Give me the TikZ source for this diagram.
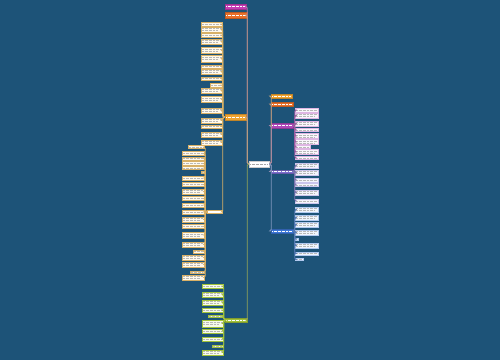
\documentclass[tikz,border=0pt]{standalone}
\usetikzlibrary{calc}
\definecolor{bg}{HTML}{1D5378}
\definecolor{cpink}{HTML}{C43CB4}
\definecolor{corange}{HTML}{E8702A}
\definecolor{cgold}{HTML}{F0A532}
\definecolor{cpurple}{HTML}{B048B8}
\definecolor{clav}{HTML}{7D6FD0}
\definecolor{cblue}{HTML}{3D78D8}
\definecolor{cgreen}{HTML}{A2C23A}
\definecolor{tanline}{HTML}{D8B066}
\definecolor{fleft}{HTML}{FFF9EC}
\definecolor{fgreen}{HTML}{F6FAEA}
\definecolor{fpur}{HTML}{F9F6FB}
\definecolor{flav}{HTML}{F4F4FB}
\definecolor{fblue}{HTML}{F0F5FC}
\tikzset{
  box/.style={rectangle,inner sep=0pt,line width=0.4pt},
  leftbox/.style={box,fill=fleft,draw=tanline},
  greenbox/.style={box,fill=fgreen,draw=cgreen},
  purbox/.style={box,fill=fpur,draw=cpurple!40},
  lavbox/.style={box,fill=flav,draw=clav!40},
  bluebox/.style={box,fill=fblue,draw=cblue!40},
  txt/.style={line width=0.5pt,draw=gray!55,dash pattern=on 1pt off 0.35pt},
  conn/.style={line width=0.8pt,rounded corners=1.5pt},
}
\newcommand\kid[6]{%
  \node[#6,minimum width=#4pt,minimum height=#5pt] (#1) at (#2,#3) {};
  \ifdim #5pt<4.5pt
    \draw[txt] ([xshift=1.2pt]#1.west) -- ([xshift=-1.2pt]#1.east);
  \else
    \draw[txt] ([xshift=1.2pt,yshift=1.1pt]#1.west) -- ([xshift=-1.2pt,yshift=1.1pt]#1.east);
    \draw[txt] ([xshift=1.2pt,yshift=-1.1pt]#1.west) -- ([xshift=-4pt,yshift=-1.1pt]#1.east);
  \fi}
\newcommand\hub[7]{%
  \node[box,fill=#6,draw=#6!80!black,minimum width=#4pt,minimum height=#5pt] (#1) at (#2,#3) {};
  \draw[txt,draw=#7] ([xshift=1.5pt]#1.west) -- ([xshift=-1.5pt]#1.east);}
\begin{document}
\begin{tikzpicture}[x=1pt,y=-1pt]
\fill[bg] (0,0) rectangle (500,360);
\useasboundingbox (0,0) rectangle (500,360);

% central and main nodes
\hub{C}{259}{164}{20}{6}{white}{gray!70}
\hub{P1}{235.5}{6.5}{21}{5}{cpink}{white}
\hub{O1}{236}{15}{22}{6}{corange}{white}
\hub{O2}{235.5}{117}{21}{6}{cgold}{white}
\hub{G}{236}{320}{22}{4}{cgreen}{white}
\hub{R1}{281.5}{96}{21}{4}{cgold}{white}
\hub{R2}{282}{104}{22}{4}{corange}{white}
\hub{R3}{282}{125.5}{22}{5}{cpurple}{white}
\hub{R4}{282}{171.5}{22}{3}{clav}{white}
\hub{R5}{282}{231}{22}{4}{cblue}{white}

% trunk connectors
\draw[conn,draw=cpink!45!gray!80] (C.west) -- ++(-1.5,0) |- (P1.east);
\draw[conn,draw=corange!40!gray!80] (C.west) -- ++(-1.5,0) |- (O1.east);
\draw[conn,draw=cgold!45!gray!80] (C.west) -- ++(-1.5,0) |- (O2.east);
\draw[conn,draw=cgreen!55!gray] (C.west) -- ++(-1.5,0) |- (G.east);
\draw[conn,draw=cgold!40!gray!80] (C.east) -- ++(2,0) |- (R1.west);
\draw[conn,draw=corange!40!gray!80] (C.east) -- ++(2,0) |- (R2.west);
\draw[conn,draw=cpurple!45!gray!80] (C.east) -- ++(2,0) |- (R3.west);
\draw[conn,draw=clav!50!gray!80] (C.east) -- ++(2,0) |- (R4.west);
\draw[conn,draw=cblue!50!gray!80] (C.east) -- ++(2,0) |- (R5.west);

% left branch (children of O2)
\kid{L1}{211.5}{24}{21}{4}{leftbox}
\kid{L2}{211.5}{29.5}{21}{5}{leftbox}
\kid{L3}{211.5}{35}{21}{4}{leftbox}
\kid{L4}{211.5}{41.5}{21}{5}{leftbox}
\kid{L5}{211.5}{50}{21}{6}{leftbox}
\kid{L6}{211.5}{58.5}{21}{7}{leftbox}
\kid{L7}{211.5}{66.5}{21}{3}{leftbox}
\kid{L8}{211.5}{71.5}{21}{5}{leftbox}
\kid{L9}{211.5}{78.5}{21}{3}{leftbox}
\kid{L10}{216}{85}{12}{4}{leftbox}
\kid{L11}{211.5}{90.5}{21}{5}{leftbox}
\kid{L12}{211.5}{99}{21}{6}{leftbox}
\kid{L13}{211.5}{110.5}{21}{5}{leftbox}
\kid{L14}{211.5}{120.5}{21}{5}{leftbox}
\kid{L15}{211.5}{126.5}{21}{3}{leftbox}
\kid{L16}{211.5}{134.5}{21}{5}{leftbox}
\kid{L17}{211.5}{142.5}{21}{5}{leftbox}
\node[box,fill=white,draw=tanline,minimum width=15pt,minimum height=3pt] (W) at (214.5,212) {};
\foreach \n in {L1,L2,L3,L4,L5,L6,L7,L8,L9,L10,L11,L12,L13,L14,L15,L16,L17,W}
  \draw[conn,draw=tanline] (O2.west) -- ++(-2,0) |- (\n.east);

% children of W
\kid{M1}{196}{147}{16}{3}{leftbox}
\kid{M2}{193}{153.5}{22}{4}{leftbox}
\kid{M3}{193}{158.5}{22}{3}{leftbox}
\kid{M4}{193}{163.5}{22}{4}{leftbox}
\kid{M5}{193}{168}{22}{3}{leftbox}
\kid{M6}{202.5}{172}{3}{2}{leftbox}
\kid{M7}{193}{178}{22}{4}{leftbox}
\kid{M8}{193}{184.5}{22}{4}{leftbox}
\kid{M9}{193}{191.5}{22}{5}{leftbox}
\kid{M10}{193}{198.5}{22}{4}{leftbox}
\kid{M11}{193}{205}{22}{4}{leftbox}
\kid{M12}{193}{212}{22}{4}{leftbox}
\kid{M13}{193}{219.5}{22}{5}{leftbox}
\kid{M14}{193}{226.5}{22}{4}{leftbox}
\kid{M15}{193}{235}{22}{6}{leftbox}
\kid{M16}{193}{244.5}{22}{5}{leftbox}
\kid{M17}{198.5}{251.5}{11}{3}{leftbox}
\kid{M18}{193}{257.5}{22}{5}{leftbox}
\kid{M19}{193}{264.5}{22}{5}{leftbox}
\kid{M20}{197}{272}{14}{2}{leftbox}
\kid{M21}{193}{277.5}{22}{5}{leftbox}
\foreach \n in {M1,M2,M3,M4,M5,M6,M7,M8,M9,M10,M11,M12,M13,M14,M15,M16,M17,M18,M19,M20,M21}
  \draw[conn,draw=tanline] (W.west) -- ++(-1.5,0) |- (\n.east);

% green branch
\kid{N1}{212.5}{286}{21}{4}{greenbox}
\kid{N2}{212.5}{294.5}{21}{5}{greenbox}
\kid{N3}{212.5}{302.5}{21}{5}{greenbox}
\kid{N4}{212.5}{310}{21}{4}{greenbox}
\kid{N5}{215.5}{316}{15}{2}{greenbox}
\kid{N6}{212.5}{323.5}{21}{7}{greenbox}
\kid{N7}{212.5}{331}{21}{4}{greenbox}
\kid{N8}{212.5}{339}{21}{4}{greenbox}
\kid{N9}{217.5}{346}{11}{2}{greenbox}
\kid{N10}{212.5}{352.5}{21}{5}{greenbox}
\foreach \n in {N1,N2,N3,N4,N5,N6,N7,N8,N9,N10}
  \draw[conn,draw=cgreen] (G.west) -- ++(-1,0) |- (\n.east);

% right purple branch
\kid{S1}{306.5}{110}{23}{4}{purbox}
\kid{S2}{306.5}{115.5}{23}{5}{purbox}
\kid{S3}{306.5}{123.5}{23}{5}{purbox}
\kid{S4}{306.5}{130}{23}{3}{purbox}
\kid{S5}{306.5}{136}{23}{5}{purbox}
\kid{S6}{306.5}{142}{23}{5}{purbox}
\kid{S7}{302.5}{147}{15}{3}{purbox}
\kid{S8}{306.5}{152}{23}{5}{purbox}
\kid{S9}{306.5}{158}{23}{3}{purbox}
\foreach \n in {S1,S2,S3,S4,S5,S6,S7,S8,S9}
  \draw[conn,draw=cpurple!60!gray] (R3.east) -- ++(1.5,0) |- (\n.west);

% right lavender branch
\kid{T1}{306.5}{165.5}{23}{5}{lavbox}
\kid{T2}{306.5}{172.5}{23}{5}{lavbox}
\kid{T3}{306.5}{180}{23}{4}{lavbox}
\kid{T4}{306.5}{185}{23}{3}{lavbox}
\kid{T5}{306.5}{192.5}{23}{5}{lavbox}
\kid{T6}{306.5}{201}{23}{4}{lavbox}
\foreach \n in {T1,T2,T3,T4,T5,T6}
  \draw[conn,draw=clav!60!gray] (R4.east) -- ++(1.5,0) |- (\n.west);

% right blue branch
\kid{U1}{306.5}{209.5}{23}{5}{bluebox}
\kid{U2}{306.5}{217.5}{23}{5}{bluebox}
\kid{U3}{306.5}{224.5}{23}{5}{bluebox}
\kid{U4}{306.5}{232.5}{23}{5}{bluebox}
\kid{U5}{296.5}{239}{3}{2}{bluebox}
\kid{U6}{306.5}{245.5}{23}{5}{bluebox}
\kid{U7}{306.5}{253.5}{23}{3}{bluebox}
\kid{U8}{299}{259.5}{8}{2}{bluebox}
\foreach \n in {U1,U2,U3,U4,U5,U6,U7,U8}
  \draw[conn,draw=cblue!60!gray] (R5.east) -- ++(1.5,0) |- (\n.west);
\end{tikzpicture}
\end{document}
